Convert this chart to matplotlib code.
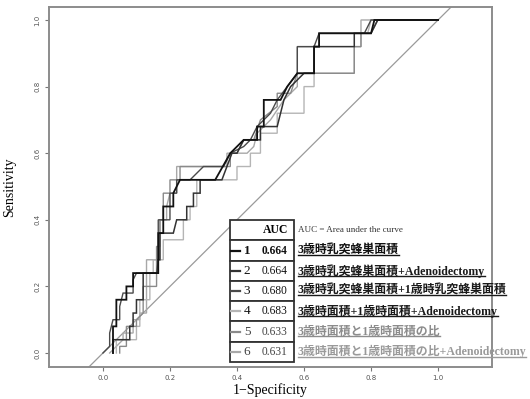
import matplotlib
matplotlib.use("Agg")
import matplotlib.pyplot as plt
from matplotlib.lines import Line2D
from matplotlib.patches import Rectangle

# ROC curve vertices (1-specificity, sensitivity)
fpr1 = [0.03, 0.03, 0.04, 0.04, 0.07, 0.07, 0.09, 0.09, 0.165, 0.165, 0.18, 0.18, 0.21, 0.21, 0.23, 0.335,
        0.38, 0.42, 0.46, 0.46, 0.48, 0.48, 0.53, 0.55, 0.58, 0.63, 0.63, 0.645, 0.645, 0.80, 0.81, 0.90, 1.0]
tpr1 = [0.00, 0.08, 0.08, 0.16, 0.16, 0.20, 0.20, 0.24, 0.24, 0.36, 0.36, 0.44, 0.44, 0.48, 0.52, 0.52,
        0.60, 0.64, 0.64, 0.68, 0.68, 0.76, 0.76, 0.80, 0.84, 0.84, 0.92, 0.92, 0.96, 0.96, 1.00, 1.00, 1.0]

fpr2 = [0.03, 0.03, 0.08, 0.08, 0.09, 0.09, 0.10, 0.10, 0.12, 0.12, 0.165, 0.165, 0.17, 0.17, 0.21, 0.22, 0.25,
        0.25, 0.27, 0.27, 0.29, 0.29, 0.355, 0.385, 0.40, 0.42, 0.47, 0.47, 0.52, 0.53, 0.54, 0.56, 0.60, 0.63,
        0.63, 0.75, 0.75, 0.80, 0.82, 0.90, 1.0]
tpr2 = [0.00, 0.04, 0.04, 0.08, 0.08, 0.12, 0.12, 0.16, 0.16, 0.24, 0.24, 0.28, 0.28, 0.36, 0.36, 0.40, 0.40,
        0.44, 0.44, 0.48, 0.48, 0.52, 0.52, 0.60, 0.60, 0.64, 0.64, 0.68, 0.68, 0.72, 0.76, 0.80, 0.84, 0.84,
        0.92, 0.92, 0.96, 0.96, 1.00, 1.00, 1.0]

fpr3 = [0.00, 0.02, 0.02, 0.03, 0.05, 0.05, 0.06, 0.09, 0.09, 0.10, 0.16, 0.165, 0.165, 0.20, 0.20, 0.22, 0.22,
        0.26, 0.30, 0.36, 0.38, 0.42, 0.44, 0.46, 0.50, 0.52, 0.55, 0.58, 0.58, 0.63, 0.645, 0.78, 0.80, 1.0]
tpr3 = [0.00, 0.02, 0.06, 0.10, 0.10, 0.14, 0.18, 0.18, 0.22, 0.24, 0.24, 0.28, 0.40, 0.40, 0.48, 0.48, 0.52,
        0.52, 0.56, 0.56, 0.60, 0.62, 0.64, 0.68, 0.72, 0.76, 0.80, 0.84, 0.92, 0.92, 0.96, 0.96, 1.00, 1.0]

fpr4 = [0.04, 0.04, 0.10, 0.10, 0.11, 0.11, 0.14, 0.14, 0.15, 0.15, 0.18, 0.18, 0.24, 0.24, 0.26, 0.26, 0.28,
        0.28, 0.40, 0.40, 0.44, 0.44, 0.47, 0.47, 0.52, 0.52, 0.60, 0.60, 0.63, 0.63, 0.75, 0.75, 0.77, 0.77,
        0.79, 0.80, 0.99]
tpr4 = [0.00, 0.04, 0.04, 0.08, 0.08, 0.16, 0.16, 0.24, 0.24, 0.28, 0.28, 0.34, 0.34, 0.40, 0.40, 0.44, 0.44,
        0.52, 0.52, 0.56, 0.56, 0.60, 0.60, 0.66, 0.66, 0.72, 0.72, 0.80, 0.80, 0.84, 0.84, 0.92, 0.92, 0.96,
        0.96, 1.00, 1.00]

fpr5 = [0.05, 0.05, 0.07, 0.07, 0.10, 0.10, 0.12, 0.12, 0.16, 0.16, 0.17, 0.17, 0.18, 0.18, 0.20, 0.20, 0.23,
        0.23, 0.38, 0.38, 0.40, 0.42, 0.45, 0.47, 0.52, 0.52, 0.56, 0.58, 0.75, 0.75, 0.77, 0.77, 0.80, 0.82, 1.0]
tpr5 = [0.00, 0.02, 0.02, 0.08, 0.08, 0.10, 0.12, 0.20, 0.20, 0.32, 0.32, 0.40, 0.40, 0.48, 0.48, 0.52, 0.52,
        0.56, 0.56, 0.60, 0.60, 0.64, 0.64, 0.70, 0.74, 0.78, 0.78, 0.84, 0.84, 0.92, 0.92, 0.96, 0.96, 1.00, 1.0]

fpr6 = [0.02, 0.04, 0.06, 0.06, 0.09, 0.09, 0.11, 0.11, 0.13, 0.13, 0.17, 0.17, 0.19, 0.19, 0.20, 0.22, 0.22,
        0.37, 0.37, 0.43, 0.45, 0.46, 0.50, 0.54, 0.58, 0.58, 0.645, 0.645, 0.77, 0.77, 0.99]
tpr6 = [0.00, 0.02, 0.04, 0.06, 0.06, 0.10, 0.10, 0.12, 0.12, 0.28, 0.28, 0.40, 0.40, 0.44, 0.48, 0.48, 0.56,
        0.56, 0.60, 0.60, 0.62, 0.66, 0.70, 0.76, 0.80, 0.92, 0.92, 0.96, 0.96, 1.00, 1.00]

curves = [(fpr1, tpr1), (fpr2, tpr2), (fpr3, tpr3), (fpr4, tpr4), (fpr5, tpr5), (fpr6, tpr6)]
auc = ["0.664", "0.664", "0.680", "0.683", "0.633", "0.631"]
labels = ["3歳時乳突蜂巣面積",
          "3歳時乳突蜂巣面積+Adenoidectomy",
          "3歳時乳突蜂巣面積+1歳時乳突蜂巣面積",
          "3歳時面積+1歳時面積+Adenoidectomy",
          "3歳時面積と1歳時面積の比",
          "3歳時面積と1歳時面積の比+Adenoidectomy"]
line_colors = ["#111111", "#333333", "#4a4a4a", "#b5b5b5", "#8a8a8a", "#a8a8a8"]
line_widths = [1.3, 1.1, 1.0, 1.0, 1.0, 1.0]
text_colors = ["#111111", "#1a1a1a", "#1a1a1a", "#1a1a1a", "#8c8c8c", "#9a9a9a"]

serif = ["Liberation Serif", "Noto Sans CJK JP"]
plt.rcParams["font.family"] = serif

fig = plt.figure(figsize=(5.3, 3.99), dpi=100)
ax = fig.add_axes([49 / 530, 1 - 367 / 399, 443 / 530, 360 / 399])

ax.plot([-0.3, 1.3], [-0.3, 1.3], color="#9a9a9a", lw=0.9)
# draw light curves first so the dark ones sit on top
for i in [5, 3, 4, 2, 1, 0]:
    x, y = curves[i]
    ax.plot(x, y, color=line_colors[i], lw=line_widths[i], solid_joinstyle="miter")

ax.set_xlim(-0.161, 1.161)
ax.set_ylim(-0.042, 1.039)
ticks = [0.0, 0.2, 0.4, 0.6, 0.8, 1.0]
ax.set_xticks(ticks)
ax.set_yticks(ticks)
ax.set_xticklabels([f"{t:.1f}" for t in ticks], family="DejaVu Sans", fontsize=5, color="#555555")
ax.set_yticklabels([f"{t:.1f}" for t in ticks], family="DejaVu Sans", fontsize=5, color="#555555",
                   rotation=90, va="center")
ax.tick_params(length=3, width=0.8, color="#777777", pad=3)
for s in ax.spines.values():
    s.set_color("#8c8c8c")
    s.set_linewidth(1.4)
ax.set_xlabel("1\u2212Specificity", fontsize=10, labelpad=1)
ax.set_ylabel("Sensitivity", fontsize=10, labelpad=13)

# AUC table in the lower right
x0, x1 = 0.4086, 0.553
top = 0.408
rh = 0.0563
tr = ax.transAxes
for r in range(7):
    yb = top - (r + 1) * rh
    ax.add_patch(Rectangle((x0, yb), x1 - x0, rh, transform=tr, fill=True, facecolor="white",
                           edgecolor="#333333", lw=1.3, zorder=5, clip_on=False))
ax.text(0.5395, top - 0.5 * rh, "AUC", transform=tr, ha="right", va="center", fontsize=8.5,
        fontweight="bold", zorder=6)
ax.text(0.561, top - 0.5 * rh, "AUC = Area under the curve", transform=tr, ha="left", va="center",
        fontsize=6.5, color="#333333", zorder=6)

texts = []
for i in range(6):
    yc = top - (i + 1.5) * rh
    ax.add_line(Line2D([0.4118, 0.4312], [yc, yc], transform=tr, color=line_colors[i], lw=1.6,
                       zorder=6, clip_on=False))
    w = "bold" if i == 0 else "normal"
    c = "#111111" if i < 4 else "#444444"
    ax.text(0.447, yc, str(i + 1), transform=tr, ha="center", va="center", fontsize=9.5, fontweight=w,
            color=c, zorder=6)
    ax.text(0.5395, yc, auc[i], transform=tr, ha="right", va="center", fontsize=8.3, fontweight=w,
            color=c, zorder=6)
    t = ax.text(0.561, yc, labels[i], transform=tr, ha="left", va="center", fontsize=8.6,
                fontweight="bold", color=text_colors[i], zorder=6, clip_on=False)
    texts.append(t)

# underline each label
fig.canvas.draw()
renderer = fig.canvas.get_renderer()
inv = fig.transFigure.inverted()
for i, t in enumerate(texts):
    bb = t.get_window_extent(renderer)
    (fx0, fy0), (fx1, _) = inv.transform([(bb.x0, bb.y0), (bb.x1, bb.y1)])
    fig.add_artist(Line2D([fx0, fx1], [fy0 + 0.004, fy0 + 0.004], transform=fig.transFigure,
                          color=text_colors[i], lw=1.0, zorder=7))

fig.savefig("out.png", dpi=100)
